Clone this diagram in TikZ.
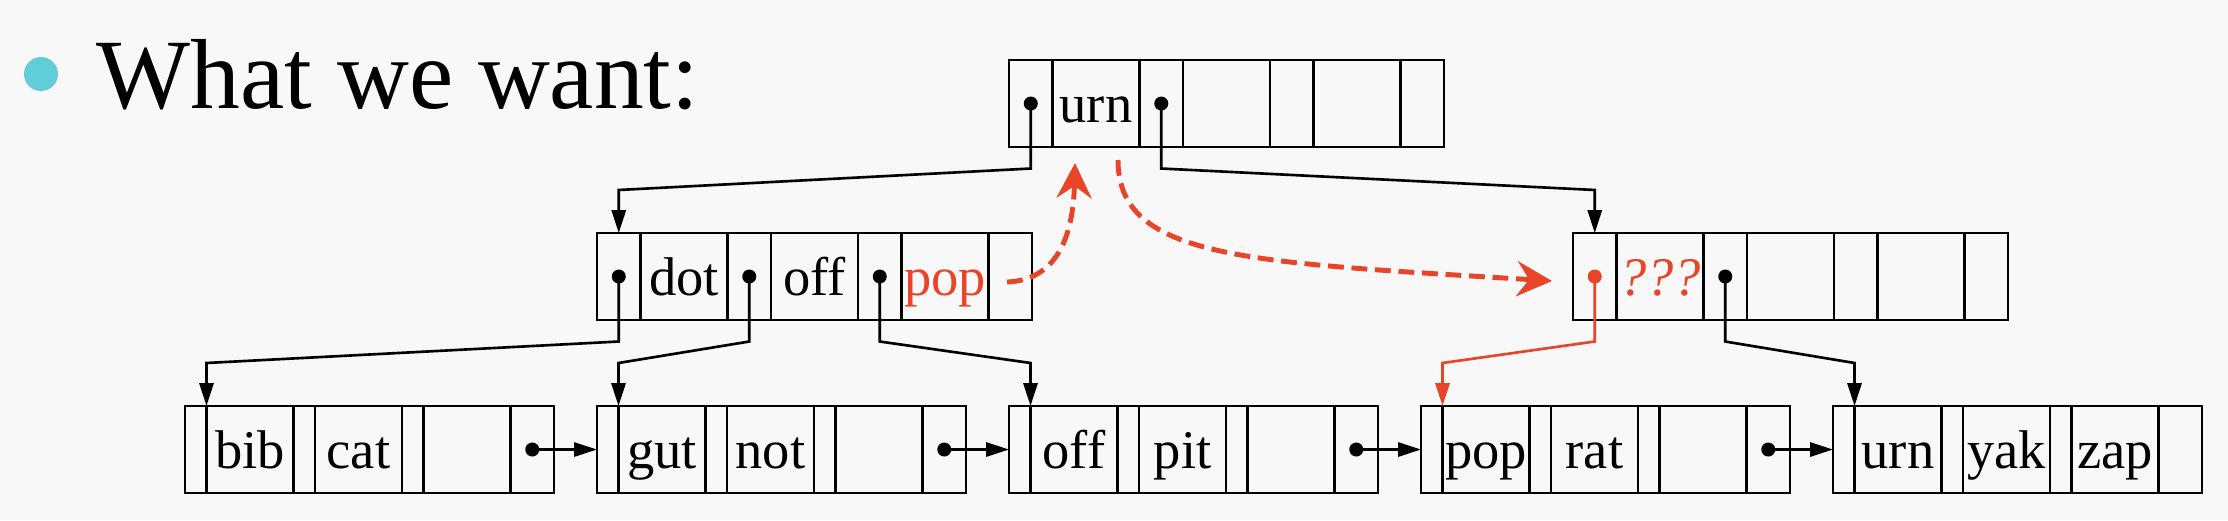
\documentclass[tikz,border=0pt]{standalone}
\usepackage{fontspec}
\setmainfont{Liberation Serif}
\usetikzlibrary{arrows.meta}

\definecolor{hl}{RGB}{233,68,40}
\definecolor{bullet}{RGB}{96,205,216}
\definecolor{paper}{RGB}{248,248,248}

% inner node: name, left, top, three keys
\newcommand{\innerbox}[6]{%
  \draw[box] (#2,#3) rectangle ++(435,87);
  \foreach \dx in {43.5,130.5,174,261,304.5,391.5}
    \draw[box] (#2+\dx,#3) -- ++(0,87);
  \node[key] (#1k1) at (#2+87,#3+43.5) {#4};
  \node[key] (#1k2) at (#2+217.5,#3+43.5) {#5};
  \node[key] (#1k3) at (#2+348,#3+43.5) {#6};
  \coordinate (#1in) at (#2+21.75,#3);
}

% leaf: name, left, three keys
\newcommand{\leafbox}[5]{%
  \draw[box] (#2,406) rectangle ++(369,87);
  \foreach \dx in {21.5,108.5,130,217,238.5,325.5}
    \draw[box] (#2+\dx,406) -- ++(0,87);
  \node[key] (#1k1) at (#2+65,449.5) {#3};
  \node[key] (#1k2) at (#2+173.5,449.5) {#4};
  \node[key] (#1k3) at (#2+282,449.5) {#5};
  \coordinate (#1in) at (#2+21.5,406);
  \coordinate (#1w) at (#2,449.5);
}

\begin{document}
\begin{tikzpicture}[x=0.01cm, y=-0.01cm,
    box/.style={line width=0.8pt},
    key/.style={font=\fontsize{15.5}{18}\selectfont, inner sep=0pt, text height=10.8pt, text depth=0pt},
    dot/.style={circle, fill, inner sep=0pt, minimum size=0.14cm},
    link/.style={line width=0.75pt, -{Triangle[length=6.5pt,width=4pt]}},
    move/.style={hl, line width=1.4pt, dash pattern=on 4.5pt off 2.2pt, -{Stealth[length=10pt,width=10pt,inset=3.5pt]}}]
  \fill[paper] (0,0) rectangle (2228,520);

  % title
  \node[circle, fill=bullet, inner sep=0pt, minimum size=0.34cm] (bul) at (41,74) {};
  \node[anchor=base west, inner sep=0pt, font=\fontsize{28.3}{34}\selectfont] (title) at (96,108) {What we want:};

  % inner nodes
  \innerbox{root}{1009}{60}{urn}{}{}
  \innerbox{lft}{597}{233}{dot}{off}{\textcolor{hl}{pop}}
  \innerbox{rgt}{1573}{233}{\textcolor{hl}{\itshape ???}}{}{}

  % leaves
  \leafbox{la}{185}{bib}{cat}{}
  \leafbox{lb}{597}{gut}{not}{}
  \leafbox{lc}{1009}{off}{pit}{}
  \leafbox{ld}{1421}{pop}{rat}{}
  \leafbox{le}{1833}{urn}{yak}{zap}

  % child pointers
  \node[dot] (root1) at (1030.75,103.5) {};
  \node[dot] (root2) at (1161.25,103.5) {};
  \node[dot] (lft1) at (618.75,276.5) {};
  \node[dot] (lft2) at (749.25,276.5) {};
  \node[dot] (lft3) at (879.75,276.5) {};
  \node[dot, hl] (rgt1) at (1594.75,276.5) {};
  \node[dot] (rgt2) at (1725.25,276.5) {};

  \draw[link] (root1.center) -- ++(0,65) -- ([yshift=0.43cm]lftin) -- (lftin);
  \draw[link] (root2.center) -- ++(0,65) -- ([yshift=0.43cm]rgtin) -- (rgtin);
  \draw[link] (lft1.center) -- ++(0,65) -- ([yshift=0.43cm]lain) -- (lain);
  \draw[link] (lft2.center) -- ++(0,65) -- ([yshift=0.43cm]lbin) -- (lbin);
  \draw[link] (lft3.center) -- ++(0,65) -- ([yshift=0.43cm]lcin) -- (lcin);
  \draw[link, hl] (rgt1.center) -- ++(0,65) -- ([yshift=0.43cm]ldin) -- (ldin);
  \draw[link] (rgt2.center) -- ++(0,65) -- ([yshift=0.43cm]lein) -- (lein);

  % next pointers
  \node[dot] (lanx) at (185+347.25,449.5) {};
  \node[dot] (lbnx) at (597+347.25,449.5) {};
  \node[dot] (lcnx) at (1009+347.25,449.5) {};
  \node[dot] (ldnx) at (1421+347.25,449.5) {};
  \draw[link] (lanx.center) -- (lbw);
  \draw[link] (lbnx.center) -- (lcw);
  \draw[link] (lcnx.center) -- (ldw);
  \draw[link] (ldnx.center) -- (lew);

  % moving pop up, urn across
  \coordinate (popgo) at (1007,282);
  \coordinate (popup) at (1075,163);
  \draw[move] (popgo) .. controls (1055,280) and (1073,240) .. (popup);
  \coordinate (urngo) at (1118,160);
  \coordinate (urnat) at (1552,281);
  \draw[move] (urngo) .. controls (1118,260) and (1250,262) .. (urnat);
\end{tikzpicture}
\end{document}
